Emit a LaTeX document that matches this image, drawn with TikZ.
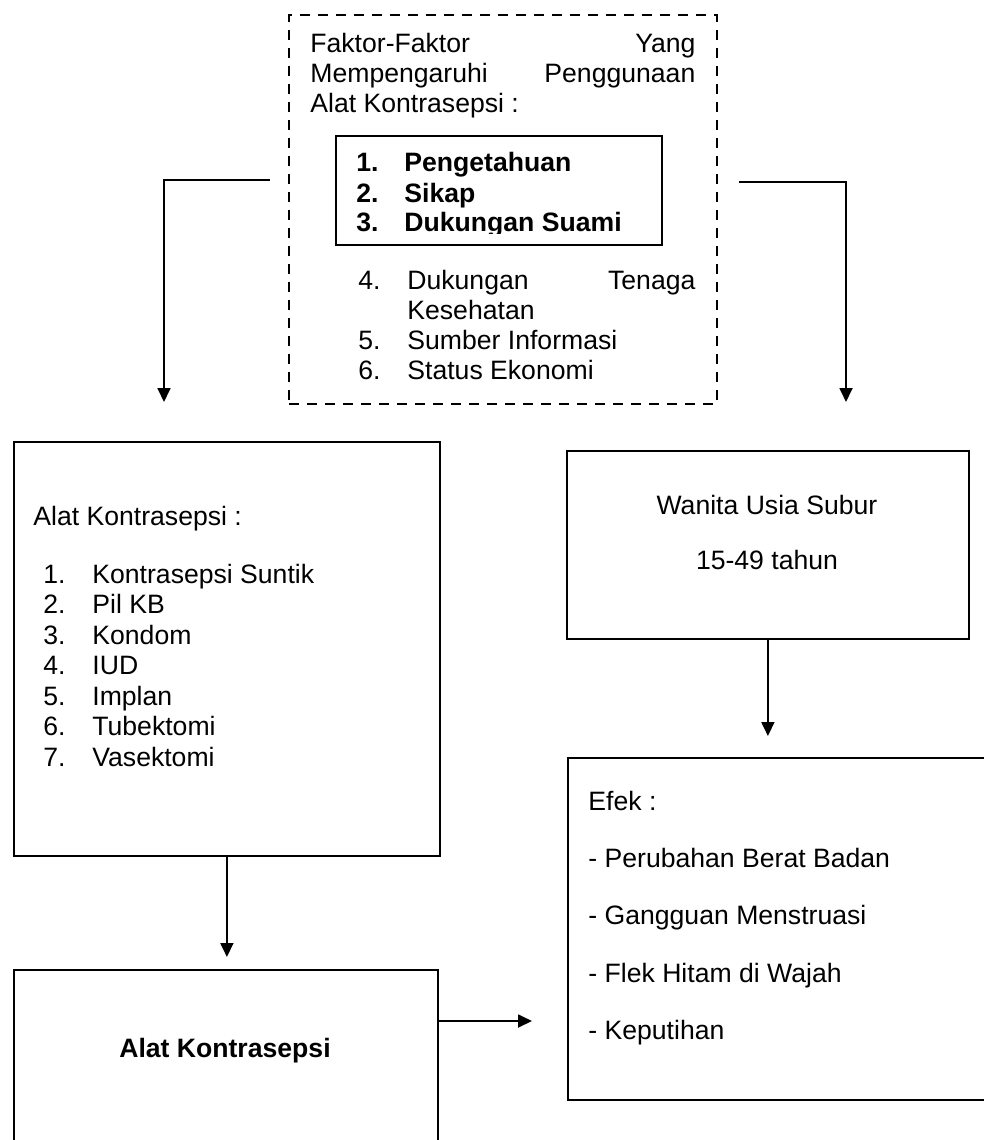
\documentclass[tikz,border=0pt]{standalone}
\usepackage{fontspec}
\setmainfont{Liberation Sans}
\usetikzlibrary{arrows.meta,positioning}

\tikzset{
  box/.style={draw, line width=0.9pt, anchor=north west, inner sep=0pt},
  dashbox/.style={box, dash pattern=on 5pt off 4pt},
  txt/.style={anchor=base west, inner sep=0pt, font=\fontsize{13.3pt}{15pt}\selectfont},
  btxt/.style={txt, font=\fontsize{13.3pt}{15pt}\selectfont\bfseries},
  conn/.style={line width=0.9pt, -{Triangle[length=7pt,width=6.5pt]}},
}

\begin{document}
\begin{tikzpicture}[x=0.5pt,y=-0.5pt]
  \clip (0,0) rectangle (984,1140);

  % boxes
  \node[dashbox, minimum width=214pt, minimum height=194.5pt] (faktor) at (288,14) {};
  \node[box, minimum width=163pt, minimum height=54.5pt] (utama) at (335,135) {};
  \node[box, minimum width=213pt, minimum height=207pt] (jenis) at (13,441) {};
  \node[box, minimum width=212pt, minimum height=100pt] (alat) at (13,969) {};
  \node[box, minimum width=201pt, minimum height=94pt] (wus) at (566,450) {};
  \node[box, minimum width=213pt, minimum height=171pt] (efek) at (567,757) {};

  % faktor-faktor
  \node[txt] (f1) at (310,52) {\makebox[192.5pt][s]{Faktor-Faktor Yang}};
  \node[txt] (f2) at (310,82) {\makebox[192.5pt][s]{Mempengaruhi Penggunaan}};
  \node[txt] (f3) at (310,112) {Alat Kontrasepsi :};
  \begin{scope}
    \clip (340,140) rectangle (655,233);
    \foreach \n/\t/\y in {1/Pengetahuan/171, 2/Sikap/202, 3/Dukungan Suami/231} {
      \node[btxt] at (356,\y) {\n.};
      \node[btxt] at (404,\y) {\t};
    }
  \end{scope}
  \node[txt] at (358,289) {4.};
  \node[txt] at (407,289) {\makebox[144pt][s]{Dukungan Tenaga}};
  \node[txt] at (407,319) {Kesehatan};
  \node[txt] at (358,349) {5.};
  \node[txt] at (407,349) {Sumber Informasi};
  \node[txt] at (358,379) {6.};
  \node[txt] at (407,379) {Status Ekonomi};

  % alat kontrasepsi
  \node[txt] at (33,525) {Alat Kontrasepsi :};
  \foreach \n/\t in {1/Kontrasepsi Suntik, 2/Pil KB, 3/Kondom, 4/IUD,
                     5/Implan, 6/Tubektomi, 7/Vasektomi} {
    \node[txt] at (43,{583+(\n-1)*30.5}) {\n.};
    \node[txt] at (92,{583+(\n-1)*30.5}) {\t};
  }
  \node[btxt, anchor=base] at (225,1057) {Alat Kontrasepsi};

  % wanita usia subur
  \node[txt, anchor=base] at (767,514) {Wanita Usia Subur};
  \node[txt, anchor=base] at (767,569) {15-49 tahun};

  % efek
  \node[txt] at (588,810) {Efek :};
  \foreach \t/\y in {Perubahan Berat Badan/867, Gangguan Menstruasi/924,
                     Flek Hitam di Wajah/982, Keputihan/1039} {
    \node[txt] at (588,\y) {- \t};
  }

  % connectors
  \coordinate (lfrom) at (270,180);
  \coordinate (ltip) at (164,402);
  \coordinate (rfrom) at (739,182);
  \coordinate (rtip) at (846,402);
  \coordinate (hy) at (0,1021);
  \draw[conn] (lfrom) -| (ltip);
  \draw[conn] (rfrom) -| (rtip);
  \draw[conn, shorten >=6pt] (jenis.south) -- (jenis.south |- alat.north);
  \draw[conn, shorten >=10.5pt] (wus.south) -- (wus.south |- efek.north);
  \draw[conn, shorten >=17.5pt] (alat.east |- hy) -- (efek.west |- hy);
\end{tikzpicture}
\end{document}
